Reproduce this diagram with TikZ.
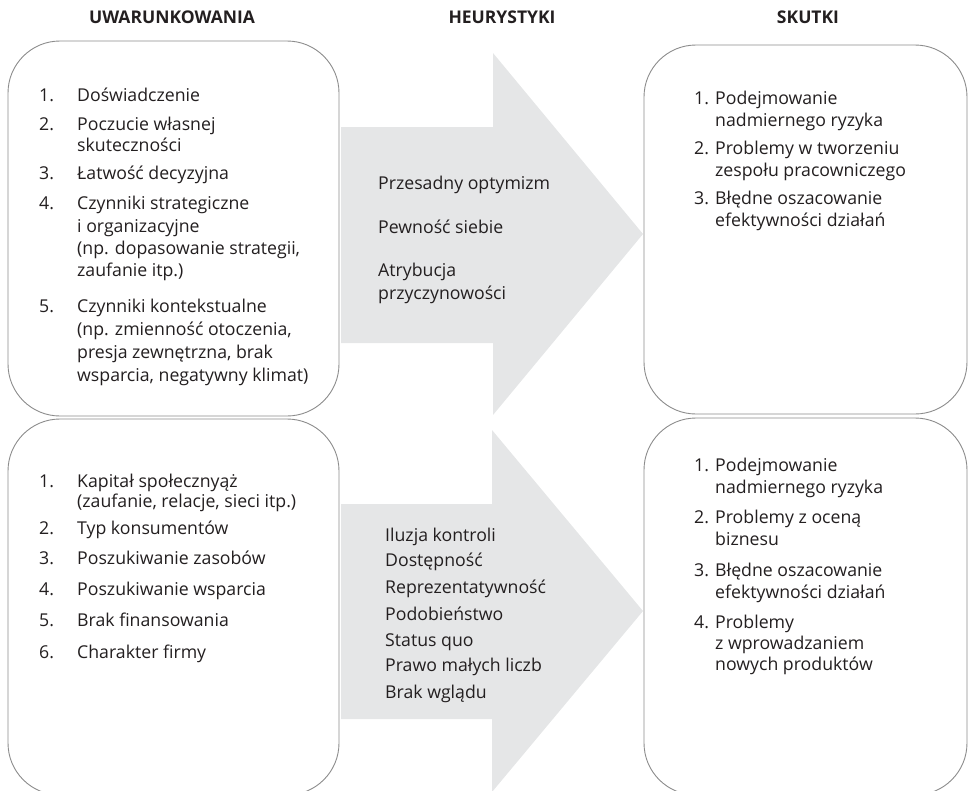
\documentclass[tikz,border=0pt]{standalone}
\usepackage{fontspec}
\setmainfont{Open Sans}
\definecolor{boxgray}{HTML}{8C8C8C}
\definecolor{arrowgray}{HTML}{E5E6E7}
\definecolor{ink}{HTML}{231F20}
\tikzset{
  box/.style={draw=boxgray, line width=0.9pt, fill=white, rounded corners=52pt, inner sep=0pt},
  item/.style={anchor=mid west, inner sep=0pt, yshift=-4pt, font=\fontsize{17.7}{22}\selectfont, text=ink},
  head/.style={anchor=mid, inner sep=0pt, font=\bfseries\fontsize{17.5}{20}\selectfont, text=ink},
  flow/.style={fill=arrowgray, draw=none},
}
\begin{document}
\begin{tikzpicture}[x=1pt, y=-1pt]
\useasboundingbox (0,0) rectangle (969,790);
\clip (0,0) rectangle (969,790);

% column headings
\node[head] (hcond) at (172,21) {UWARUNKOWANIA};
\node[head] (hheur) at (502,21) {HEURYSTYKI};
\node[head] (heff)  at (808,21) {SKUTKI};

% broad grey arrows carrying the heuristics
\fill[flow] (341,127) -- (493,127) -- (493,53) -- (643,234) -- (493,415) -- (493,343) -- (341,343) -- cycle;
\fill[flow] (341,504) -- (492,504) -- (492,430) -- (643,611) -- (492,792) -- (492,719) -- (341,719) -- cycle;

% rounded frames
\node[box, minimum width=331pt, minimum height=375pt] (condA) at (173.5,228.5) {};
\node[box, minimum width=331pt, minimum height=376pt] (condB) at (173.5,607) {};
\node[box, minimum width=323pt, minimum height=369pt] (effA)  at (805.5,229.5) {};
\node[box, minimum width=323pt, minimum height=377pt] (effB)  at (805.5,606.5) {};

% upper conditions
\node[item] (ca1n) at (39,95)  {1.};
\node[item] (ca1)  at (77,95)  {Doświadczenie};
\node[item] (ca2n) at (39,124) {2.};
\node[item] (ca2)  at (77,124) {Poczucie własnej};
\node[item] (ca2b) at (77,145) {skuteczności};
\node[item] (ca3n) at (39,173) {3.};
\node[item] (ca3)  at (77,173) {Łatwość decyzyjna};
\node[item] (ca4n) at (39,203) {4.};
\node[item] (ca4)  at (77,203) {Czynniki strategiczne};
\node[item] (ca4b) at (77,226) {i organizacyjne};
\node[item] (ca4c) at (77,248) {(np. dopasowanie strategii,};
\node[item] (ca4d) at (77,270) {zaufanie itp.)};
\node[item] (ca5n) at (39,306) {5.};
\node[item] (ca5)  at (77,306) {Czynniki kontekstualne};
\node[item] (ca5b) at (77,329) {(np. zmienność otoczenia,};
\node[item] (ca5c) at (77,352) {presja zewnętrzna, brak};
\node[item] (ca5d) at (77,375) {wsparcia, negatywny klimat)};

% upper heuristics
\node[item] (ha1) at (378,183) {Przesadny optymizm};
\node[item] (ha2) at (378,227) {Pewność siebie};
\node[item] (ha3) at (378,270) {Atrybucja};
\node[item] (ha3b) at (378,293) {przyczynowości};

% upper effects
\node[item] (ea1n) at (694,98)  {1.};
\node[item] (ea1)  at (715,98)  {Podejmowanie};
\node[item] (ea1b) at (715,120) {nadmiernego ryzyka};
\node[item] (ea2n) at (694,148) {2.};
\node[item] (ea2)  at (715,148) {Problemy w tworzeniu};
\node[item] (ea2b) at (715,170) {zespołu pracowniczego};
\node[item] (ea3n) at (694,198) {3.};
\node[item] (ea3)  at (715,198) {Błędne oszacowanie};
\node[item] (ea3b) at (715,220) {efektywności działań};

% lower conditions
\node[item] (cb1n) at (39,481) {1.};
\node[item] (cb1)  at (77,481) {Kapitał społecznyąż};
\node[item] (cb1b) at (77,501) {(zaufanie, relacje, sieci itp.)};
\node[item] (cb2n) at (39,528) {2.};
\node[item] (cb2)  at (77,528) {Typ konsumentów};
\node[item] (cb3n) at (39,558) {3.};
\node[item] (cb3)  at (77,558) {Poszukiwanie zasobów};
\node[item] (cb4n) at (39,589) {4.};
\node[item] (cb4)  at (77,589) {Poszukiwanie wsparcia};
\node[item] (cb5n) at (39,620) {5.};
\node[item] (cb5)  at (77,620) {Brak finansowania};
\node[item] (cb6n) at (39,652) {6.};
\node[item] (cb6)  at (77,652) {Charakter firmy};

% lower heuristics
\node[item] (hb1) at (385,535) {Iluzja kontroli};
\node[item] (hb2) at (385,560) {Dostępność};
\node[item] (hb3) at (385,587) {Reprezentatywność};
\node[item] (hb4) at (385,614) {Podobieństwo};
\node[item] (hb5) at (385,640) {Status quo};
\node[item] (hb6) at (385,665) {Prawo małych liczb};
\node[item] (hb7) at (385,692) {Brak wglądu};

% lower effects
\node[item] (eb1n) at (694,465) {1.};
\node[item] (eb1)  at (715,465) {Podejmowanie};
\node[item] (eb1b) at (715,487) {nadmiernego ryzyka};
\node[item] (eb2n) at (694,517) {2.};
\node[item] (eb2)  at (715,517) {Problemy z oceną};
\node[item] (eb2b) at (715,539) {biznesu};
\node[item] (eb3n) at (694,570) {3.};
\node[item] (eb3)  at (715,570) {Błędne oszacowanie};
\node[item] (eb3b) at (715,592) {efektywności działań};
\node[item] (eb4n) at (694,622) {4.};
\node[item] (eb4)  at (715,622) {Problemy};
\node[item] (eb4b) at (715,643) {z wprowadzaniem};
\node[item] (eb4c) at (715,664) {nowych produktów};
\end{tikzpicture}
\end{document}
